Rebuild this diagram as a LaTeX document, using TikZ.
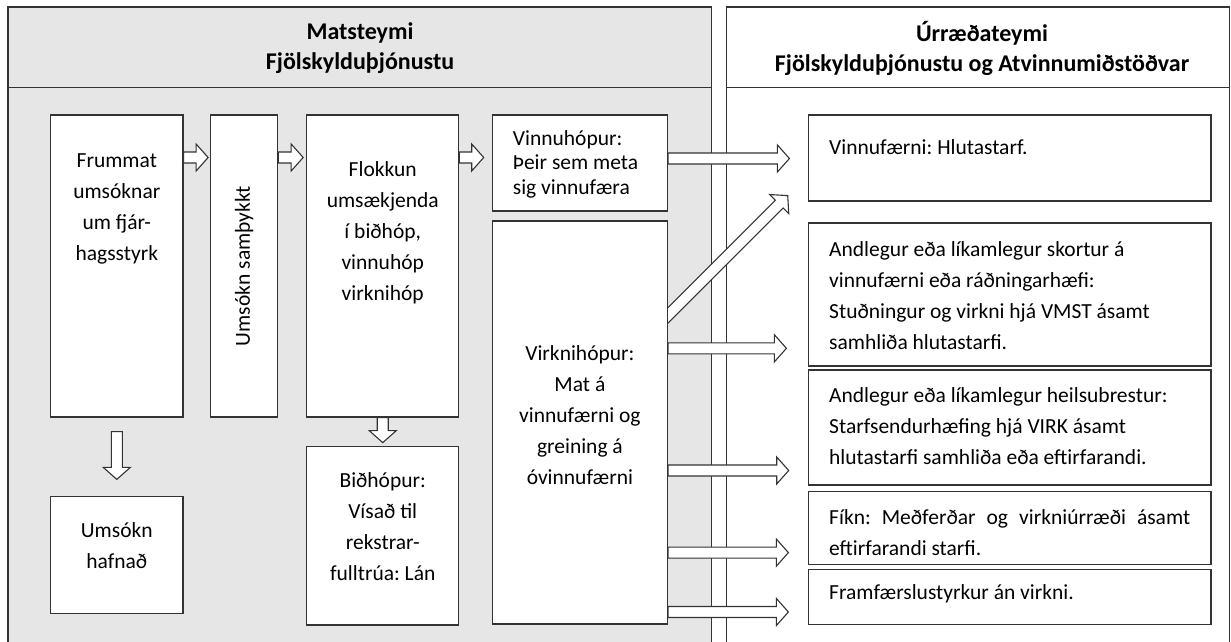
\documentclass[tikz,border=0pt]{standalone}
\usepackage{fontspec}
\setmainfont{Carlito}
\usepackage{xcolor}
\usetikzlibrary{calc}
\frenchspacing

\definecolor{panelgrey}{HTML}{E6E6E6}
\definecolor{linegrey}{HTML}{333333}

% hollow block arrow: tail #1, tip #2
\newcommand{\blockarrow}[2]{%
	\coordinate (ba-t) at (#1);
	\coordinate (ba-p) at (#2);
	\coordinate (ba-h) at ($(ba-p)!12pt!(ba-t)$);
	\draw[blockline] ($(ba-t)!5.5pt!90:(ba-p)$) -- ($(ba-h)!5.5pt!90:(ba-p)$) -- ($(ba-h)!13.5pt!90:(ba-p)$) -- (ba-p) -- ($(ba-h)!13.5pt!-90:(ba-p)$) -- ($(ba-h)!5.5pt!-90:(ba-p)$) -- ($(ba-t)!5.5pt!-90:(ba-p)$) -- cycle;}

\begin{document}
\begin{tikzpicture}[x=1pt, y=-1pt,
		panel/.style={draw=linegrey, line width=1.2pt},
		box/.style={draw=linegrey, line width=1.2pt, fill=white, inner sep=0},
		txt/.style={font=\fontsize{21.5}{31}\selectfont\frenchspacing, align=center, inner sep=0},
		head/.style={font=\fontsize{24}{30}\selectfont\bfseries, align=center, inner sep=0},
		blockline/.style={draw=linegrey, line width=1.1pt, fill=white, line join=miter}]
		\useasboundingbox (0,0) rectangle (1231,642);
		\fill[panelgrey] (8,7) rectangle (711.5,660);
		\draw[panel] (8,660) -- (8,7) -- (711.5,7) -- (711.5,660);
		\draw[panel] (8,87.3) -- (711.5,87.3);
		\draw[panel] (726.8,660) -- (726.8,7) -- (1229.5,7) -- (1229.5,660);
		\draw[panel] (726.8,87.3) -- (1229.5,87.3);
		\node[head] (matsheader) at (360,48) {Matsteymi\\Fjölskylduþjónustu};
		\node[head] (urrheader) at (982,48) {Úrræðateymi\\Fjölskylduþjónustu og Atvinnumiðstöðvar};
		\node[box, minimum width=132.4, minimum height=302] (frummat) at (116.8,266) {};
		\node[txt] (frummattxt) at (116.8,209) {Frummat\\umsóknar\\um fjár-\\hagsstyrk};
		\node[box, minimum width=67, minimum height=302] (samthykkt) at (244.2,266) {};
		\node[txt, rotate=90] (samthykkttxt) at (244.2,266) {Umsókn samþykkt};
		\node[box, minimum width=152, minimum height=302] (flokkun) at (382.75,266) {};
		\node[txt] (flokkuntxt) at (382.75,232.5) {Flokkun\\umsækjenda\\í biðhóp,\\vinnuhóp\\virknihóp};
		\node[box, minimum width=175.2, minimum height=96] (vinnuhop) at (579.9,163) {};
		\node[txt, anchor=west, align=left, font=\fontsize{21.5}{24.5}\selectfont] (vinnuhoptxt) at (512.7,164) {Vinnuhópur:\\Þeir sem meta\\sig vinnufæra};
		\node[box, minimum width=175.2, minimum height=403] (virknihop) at (579.9,422.5) {};
		\node[txt] (virknihoptxt) at (579.9,415) {Virknihópur:\\Mat á\\vinnufærni og\\greining á\\óvinnufærni};
		\node[box, minimum width=132.4, minimum height=117] (hafnad) at (116.8,555.2) {};
		\node[txt] (hafnadtxt) at (116.8,545.7) {Umsókn\\hafnað};
		\node[box, minimum width=152, minimum height=178.3] (bidhop) at (382.75,535.8) {};
		\node[txt] (bidhoptxt) at (382.75,527) {Biðhópur:\\Vísað til\\rekstrar-\\fulltrúa: Lán};
		\node[box, minimum width=402.5, minimum height=86] (vinnufaerni) at (1009.75,158) {};
		\node[txt, anchor=west, align=left] (vinnufaernitxt) at (829,146.7) {Vinnufærni: Hlutastarf.};
		\node[box, minimum width=402.5, minimum height=143] (andlegur) at (1009.75,294.5) {};
		\node[txt, anchor=west, align=left] (andlegurtxt) at (829,295.8) {Andlegur eða líkamlegur skortur á\\vinnufærni eða ráðningarhæfi:\\Stuðningur og virkni hjá VMST ásamt\\samhliða hlutastarfi.};
		\node[box, minimum width=402.5, minimum height=115] (heilsubrestur) at (1009.75,427.5) {};
		\node[txt, anchor=west, align=left] (heilsubresturtxt) at (829,425.8) {Andlegur eða líkamlegur heilsubrestur:\\Starfsendurhæfing hjá VIRK ásamt\\hlutastarfi samhliða eða eftirfarandi.};
		\node[box, minimum width=402.5, minimum height=72.6] (fikn) at (1009.75,528) {};
		\node[txt, anchor=west, text width=361, align=justify] (fikntxt) at (829,532.5) {\hyphenpenalty=10000 Fíkn: Meðferðar og virkniúrræði ásamt \linebreak eftirfarandi starfi.};
		\node[box, minimum width=402.5, minimum height=55] (framfaersla) at (1009.75,596.8) {};
		\node[txt, anchor=west, align=left] (framfaerslatxt) at (829,593.3) {Framfærslustyrkur án virkni.};
		\coordinate (row1) at (0,157.5);
		\coordinate (row2) at (0,158.5);
		\coordinate (row3) at (0,348.3);
		\coordinate (row4) at (0,470.5);
		\coordinate (row5) at (0,552.6);
		\coordinate (row6) at (0,612);
		\coordinate (diagtip) at ($(vinnufaerni.south west)+(-20.2,-6)$);
		\blockarrow{frummat.east |- row1}{$(samthykkt.west |- row1)+(-2,0)$}
		\blockarrow{samthykkt.east |- row1}{$(flokkun.west |- row1)+(-3,0)$}
		\blockarrow{flokkun.east |- row1}{$(vinnuhop.west |- row1)+(-8,0)$}
		\blockarrow{flokkun.south}{$(bidhop.north)+(0,-3.4)$}
		\blockarrow{$(frummat.south)+(0,14)$}{$(hafnad.north)+(0,-16.7)$}
		\blockarrow{vinnuhop.east |- row2}{$(vinnufaerni.west |- row2)+(-18.5,0)$}
		\begin{scope}
			\clip (virknihop.south east) rectangle (vinnufaerni.north west);
			\blockarrow{$(diagtip)+(-150,150)$}{diagtip}
		\end{scope}
		\blockarrow{virknihop.east |- row3}{$(andlegur.west |- row3)+(-21.5,0)$}
		\blockarrow{virknihop.east |- row4}{$(heilsubrestur.west |- row4)+(-19.2,0)$}
		\blockarrow{virknihop.east |- row5}{$(fikn.west |- row5)+(-19.5,0)$}
		\blockarrow{virknihop.east |- row6}{$(framfaersla.west |- row6)+(-19.5,0)$}
	\end{tikzpicture}
\end{document}
